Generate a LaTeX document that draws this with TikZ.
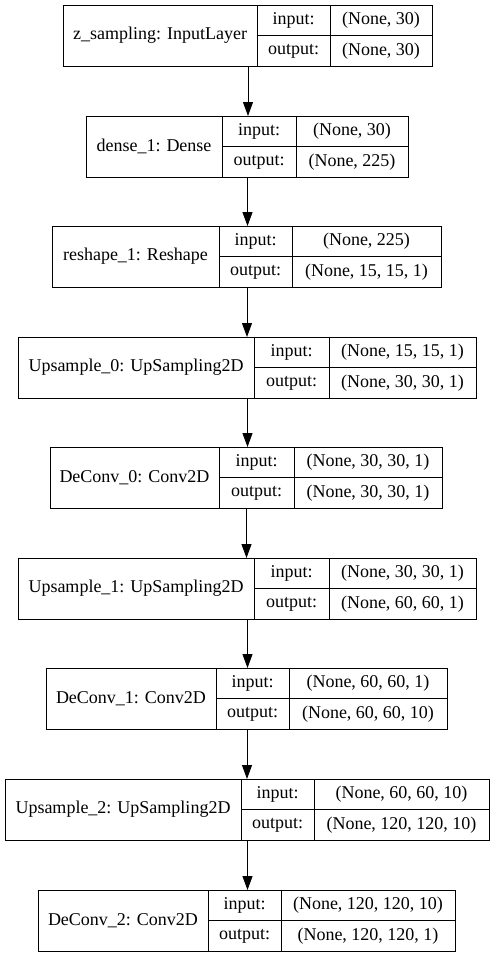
\documentclass[tikz,border=0pt]{standalone}
\usepackage{fontspec}
\setmainfont{Liberation Serif}
\usetikzlibrary{arrows.meta}

% one keras layer: id, left, split1, split2, right, top, name, input, output
\newcommand{\kerasLayer}[9]{%
    \pgfmathsetmacro\layerW{#5-#2}
    \pgfmathsetmacro\nameX{(#2+#3)/2}
    \pgfmathsetmacro\keyX{(#3+#4)/2}
    \pgfmathsetmacro\valX{(#4+#5)/2}
    \node[layerbox, minimum width=\layerW pt, anchor=north west] (#1) at (#2,#6) {};
    \draw (#3,#6) -- ++(0,61) (#4,#6) -- ++(0,61) (#3,#6+30.5) -- (#5,#6+30.5);
    \node[celltext] (#1name) at (\nameX,#6+30.5) {#7};
    \node[celltext] (#1inkey) at (\keyX,#6+15.5) {input:};
    \node[celltext] (#1outkey) at (\keyX,#6+46) {output:};
    \node[celltext] (#1in) at (\valX,#6+15.5) {#8};
    \node[celltext] (#1out) at (\valX,#6+46) {#9};
}

\begin{document}
\begin{tikzpicture}[x=1pt, y=-1pt, line width=1pt,
    layerbox/.style={draw, minimum height=61pt, inner sep=0pt},
    celltext/.style={inner sep=0pt, font=\fontsize{18}{20}\selectfont},
    flow/.style={-{Triangle[length=14pt,width=10pt]}}]
    \useasboundingbox (0,0) rectangle (495,959);

    % layers
    \kerasLayer{zsamp}{63}{257}{330}{432}{5}{z\_sampling: InputLayer}{(None, 30)}{(None, 30)}
    \kerasLayer{dense}{86}{222}{296}{408}{116}{dense\_1: Dense}{(None, 30)}{(None, 225)}
    \kerasLayer{reshape}{52}{219}{292}{441}{226}{reshape\_1: Reshape}{(None, 225)}{(None, 15, 15, 1)}
    \kerasLayer{upzero}{18}{254}{329}{476}{337}{Upsample\_0: UpSampling2D}{(None, 15, 15, 1)}{(None, 30, 30, 1)}
    \kerasLayer{deczero}{50}{219}{294}{442}{447}{DeConv\_0: Conv2D}{(None, 30, 30, 1)}{(None, 30, 30, 1)}
    \kerasLayer{upone}{18}{254}{329}{476}{558}{Upsample\_1: UpSampling2D}{(None, 30, 30, 1)}{(None, 60, 60, 1)}
    \kerasLayer{decone}{46}{216}{289}{447}{668}{DeConv\_1: Conv2D}{(None, 60, 60, 1)}{(None, 60, 60, 10)}
    \kerasLayer{uptwo}{5}{241}{314}{489}{779}{Upsample\_2: UpSampling2D}{(None, 60, 60, 10)}{(None, 120, 120, 10)}
    \kerasLayer{dectwo}{38}{208}{281}{455}{890}{DeConv\_2: Conv2D}{(None, 120, 120, 10)}{(None, 120, 120, 1)}

    % connectors
    \foreach \a/\b in {zsamp/dense, dense/reshape, reshape/upzero, upzero/deczero,
                       deczero/upone, upone/decone, decone/uptwo, uptwo/dectwo}
        \draw[flow] (\a.south) -- (\a.south |- \b.north);
\end{tikzpicture}
\end{document}
